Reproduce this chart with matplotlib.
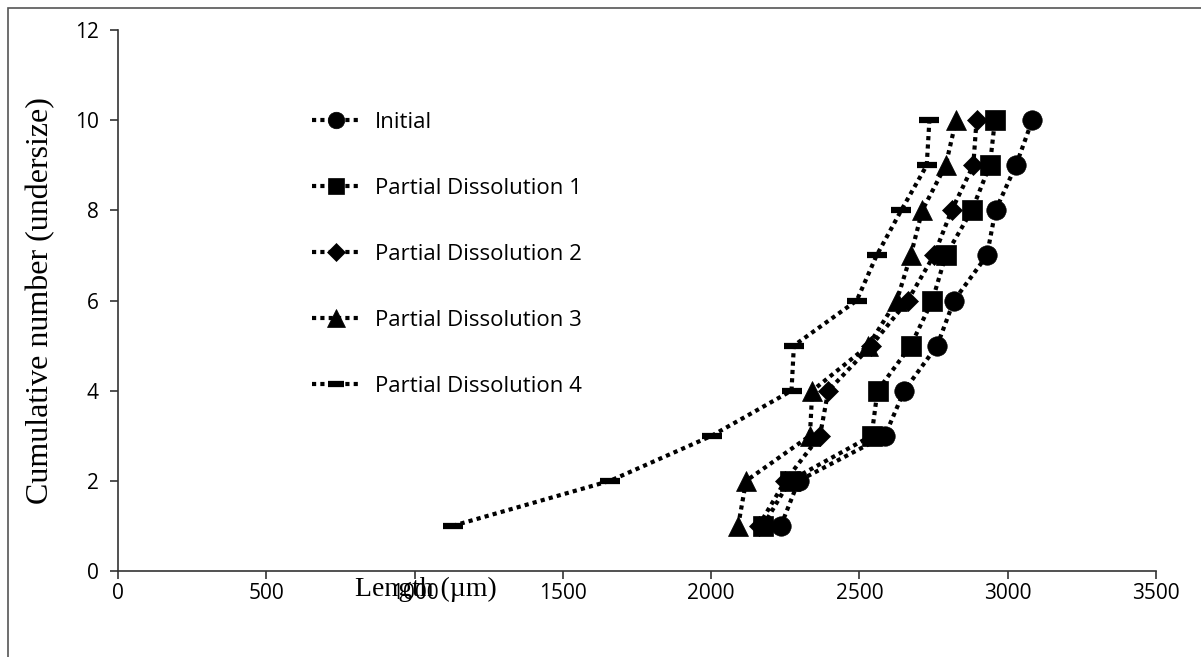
import matplotlib.pyplot as plt
from matplotlib.patches import Rectangle

# cumulative count (undersize) vs crystal length, one series per stage
counts = [1, 2, 3, 4, 5, 6, 7, 8, 9, 10]
initial = [2235, 2295, 2586, 2651, 2762, 2819, 2930, 2959, 3028, 3083]
partial_1 = [2175, 2265, 2541, 2561, 2673, 2746, 2791, 2879, 2940, 2957]
partial_2 = [2160, 2250, 2367, 2395, 2540, 2663, 2751, 2811, 2884, 2895]
partial_3 = [2091, 2118, 2333, 2341, 2530, 2626, 2673, 2712, 2791, 2826]
partial_4 = [1128, 1659, 2002, 2271, 2279, 2491, 2558, 2641, 2727, 2736]

labels = ["Initial", "Partial Dissolution 1", "Partial Dissolution 2",
          "Partial Dissolution 3", "Partial Dissolution 4"]
series = [initial, partial_1, partial_2, partial_3, partial_4]
markers = ["o", "s", "D", "^", "_"]
msizes = [14, 14, 10.5, 14.5, 14]

fig = plt.figure(figsize=(12.01, 6.57), dpi=100)
ax = fig.add_axes([0.0983, 0.1309, 0.8642, 0.8234])

for vals, lab, m, ms in zip(series, labels, markers, msizes):
    ax.plot(vals, counts, color="black", linestyle=(0, (1, 1)), linewidth=3,
            dash_capstyle="butt", marker=m, markersize=ms,
            markeredgewidth=4.5 if m == "_" else 0.5, label=lab)

ax.set_xlim(0, 3500)
ax.set_ylim(0, 12)
ax.set_xticks(range(0, 3501, 500))
ax.set_yticks(range(0, 13, 2))
for side in ["top", "right"]:
    ax.spines[side].set_visible(False)
for side in ["left", "bottom"]:
    ax.spines[side].set_color("#333333")
    ax.spines[side].set_linewidth(1.2)
ax.tick_params(direction="out", length=6, width=1.2, color="#333333",
               labelsize=15)
ax.tick_params(axis="x", pad=3)
ax.tick_params(axis="y", pad=8)
for t in ax.get_xticklabels() + ax.get_yticklabels():
    t.set_family("Open Sans")

ax.set_xlabel("Length (\u00b5m)", family="Liberation Serif", fontsize=20)
ax.xaxis.set_label_coords(0.297, -0.01)
ax.set_ylabel("Cumulative number (undersize)", family="Liberation Serif",
              fontsize=23, va="center")
ax.yaxis.set_label_coords(-0.075, 0.5)

leg = ax.legend(loc="upper left", bbox_to_anchor=(0.1676, 0.885), frameon=False,
                prop={"family": "Open Sans", "size": 16}, handlelength=2.16,
                labelspacing=2.02, handletextpad=0.68, markerscale=0.85)

# thin frame around the chart area
fig.add_artist(Rectangle((8 / 1201, -0.1), 1.2, 1.1 - 8 / 657,
                         transform=fig.transFigure, fill=False,
                         edgecolor="#555555", linewidth=1.2))

fig.savefig("out.png", dpi=100)
